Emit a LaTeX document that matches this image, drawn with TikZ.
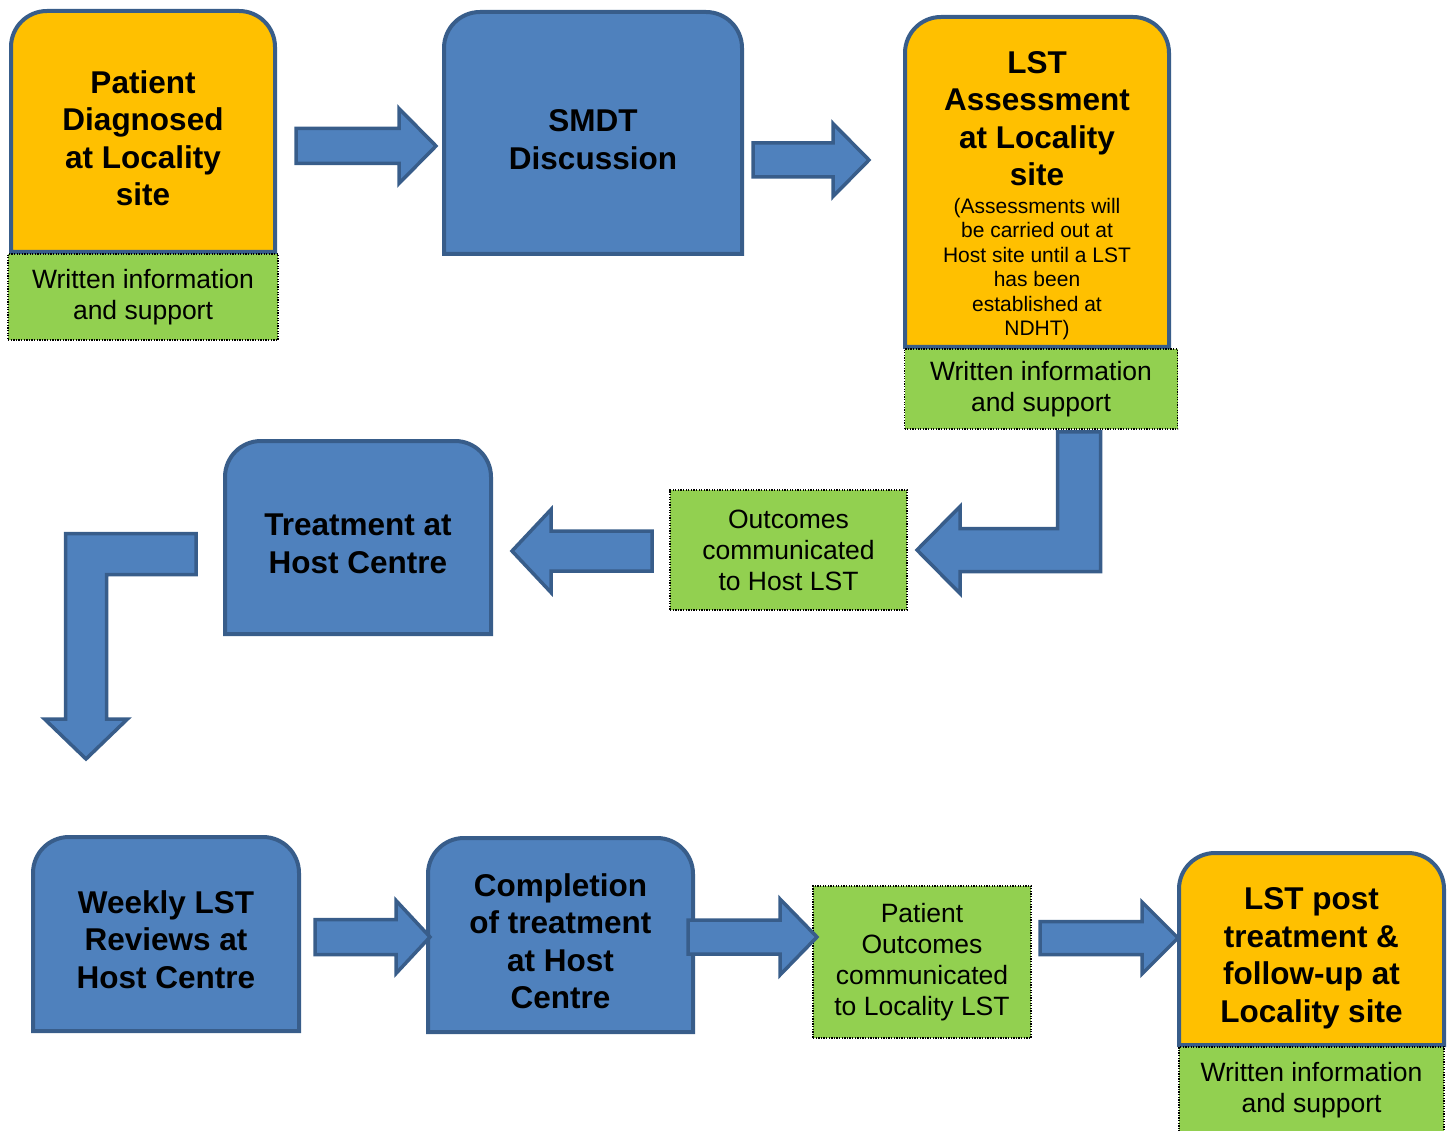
\documentclass[tikz,border=0pt]{standalone}
\usepackage{fontspec}
\setmainfont{Liberation Sans}
\usepackage{tikz}
\usetikzlibrary{
  positioning,
  calc,
  backgrounds
}
\definecolor{amber_fill}{HTML}{FFC000}
\definecolor{stage_blue}{HTML}{4F81BD}
\definecolor{edge_blue}{HTML}{385D8A}
\definecolor{info_green}{HTML}{92D050}

\newcommand{\notefont}{\fontsize{21}{24.5}\selectfont\mdseries}
\newcommand{\toppad}[1]{\rule{0pt}{#1pt}}

% straight block arrow: tail, tip, half shaft, half head, head length
\newcommand{\flatarrow}[5]{%
  \draw[block_arrow] ($(#1)+(0,-#3)$) -- ($(#2)!#5pt!(#1)+(0,-#3)$) -- ($(#2)!#5pt!(#1)+(0,-#4)$)
    -- (#2) -- ($(#2)!#5pt!(#1)+(0,#4)$) -- ($(#2)!#5pt!(#1)+(0,#3)$) -- ($(#1)+(0,#3)$) -- cycle;}

\begin{document}
\begin{tikzpicture}[
    x=1pt, y=-1pt,
    font=\fontsize{31.5}{37.5}\selectfont\bfseries,
    % Styles
    stage_box/.style={
        rectangle, inner sep=0pt, outer sep=0pt, align=center
    },
    stage_edge/.style={
        draw=edge_blue, line width=4pt
    },
    info_box/.style={
        rectangle, draw=black, fill=info_green, line width=1.3pt, dash pattern=on 1.3pt off 1.3pt,
        inner sep=0pt, outer sep=0pt, align=center, font=\fontsize{26.5}{31}\selectfont\mdseries
    },
    block_arrow/.style={
        draw=edge_blue, fill=stage_blue, line width=3.5pt, line join=miter
    }
]
\useasboundingbox (0,0) rectangle (1454,1131);

% 1. TOP ROW
\node[stage_box, minimum width=264pt, minimum height=241pt] (diag) at (143,131.5) {
    \toppad{36}Patient\\Diagnosed\\at Locality\\site
};
\node[info_box, minimum width=270pt, minimum height=86pt, below=2pt of diag] (diaginfo) {
    Written information\\and support
};

\node[stage_box, minimum width=298pt, minimum height=242pt] (smdt) at (593,133) {
    \toppad{35}SMDT\\Discussion
};

\node[stage_box, minimum width=264pt, minimum height=330pt] (lstassess) at (1037,182) {
    \toppad{49}LST\\Assessment\\at Locality\\site\\[-10pt]
    \notefont (Assessments will\\[-13pt]\notefont be carried out at\\[-13pt]\notefont Host site until a LST\\[-13pt]
    \notefont has been\\[-13pt]\notefont established at\\[-13pt]\notefont NDHT)
};
\node[info_box, minimum width=273pt, minimum height=80pt, below=2pt of lstassess, xshift=4pt] (lstinfo) {
    Written information\\and support
};

% 2. MIDDLE ROW
\node[info_box, minimum width=237pt, minimum height=120pt] (hostout) at (788.5,550) {
    Outcomes\\communicated\\to Host LST
};

\node[stage_box, minimum width=266pt, minimum height=193pt] (treat) at (358,537.5) {
    \toppad{34}Treatment at\\Host Centre
};

% 3. BOTTOM ROW
\node[stage_box, minimum width=266pt, minimum height=194pt] (weekly) at (166,934) {
    \toppad{34}Weekly LST\\Reviews at\\Host Centre
};

\node[stage_box, minimum width=265pt, minimum height=194pt] (complete) at (560.5,935) {
    \toppad{35}Completion\\of treatment\\at Host\\Centre
};

\node[info_box, minimum width=218pt, minimum height=152pt] (locout) at (922,962) {
    Patient\\Outcomes\\communicated\\to Locality LST
};

\node[stage_box, minimum width=265pt, minimum height=192pt] (followup) at (1311.5,949) {
    \toppad{41}LST post\\treatment \&\\follow-up at\\Locality site
};
\node[info_box, minimum width=265pt, minimum height=86pt, below=2pt of followup] (followinfo) {
    Written information\\and support
};

% Stage boxes (top corners rounded)
\begin{scope}[on background layer]
    \foreach \stage/\tone in {diag/amber_fill, smdt/stage_blue, lstassess/amber_fill, treat/stage_blue,
                              weekly/stage_blue, complete/stage_blue, followup/amber_fill}
        \draw[stage_edge, fill=\tone] (\stage.south west) [rounded corners=36pt] -- (\stage.north west)
            -- (\stage.north east) [sharp corners] -- (\stage.south east) -- cycle;
\end{scope}

% --- Block arrows ---
\coordinate (a1s) at ($(diag.east)+(21,14.5)$);
\coordinate (a1e) at ($(a1s -| smdt.west)+(-8,0)$);
\flatarrow{a1s}{a1e}{17.5}{37.5}{37}

\coordinate (a2s) at ($(smdt.east)+(11,27)$);
\coordinate (a2e) at ($(a2s -| lstassess.west)+(-36,0)$);
\flatarrow{a2s}{a2e}{17}{36.5}{36}

% down and left to host outcomes
\coordinate (l1s) at ($(lstinfo.south)+(38,3)$);
\coordinate (l1b) at (l1s |- hostout.east);
\coordinate (l1e) at ($(hostout.east)+(10,0)$);
\draw[block_arrow] ($(l1s)+(-21.5,0)$) -- ($(l1s)+(21.5,0)$) -- ($(l1b)+(21.5,21.5)$) -- ($(l1e)+(43,21.5)$)
    -- ($(l1e)+(43,43.5)$) -- (l1e) -- ($(l1e)+(43,-43.5)$) -- ($(l1e)+(43,-21.5)$) -- ($(l1b)+(-21.5,-21.5)$) -- cycle;

\coordinate (a3s) at ($(hostout.west)+(-18,1)$);
\coordinate (a3e) at ($(a3s -| treat.east)+(21,0)$);
\flatarrow{a3s}{a3e}{20}{41.5}{39}

% left and down to weekly reviews
\coordinate (l2s) at ($(treat.west)+(-29,16.5)$);
\coordinate (l2b) at ($(l2s)+(-110,0)$);
\coordinate (l2e) at ($(l2b |- weekly.north)+(0,-78)$);
\draw[block_arrow] ($(l2s)+(0,-20.5)$) -- ($(l2b)+(-20.5,-20.5)$) -- ($(l2e)+(-20.5,-40)$) -- ($(l2e)+(-41.5,-40)$)
    -- (l2e) -- ($(l2e)+(41.5,-40)$) -- ($(l2e)+(20.5,-40)$) -- ($(l2b)+(20.5,20.5)$) -- ($(l2s)+(0,20.5)$) -- cycle;

\coordinate (a4s) at ($(weekly.east)+(16,3)$);
\coordinate (a4e) at ($(a4s -| complete.west)+(2,0)$);
\flatarrow{a4s}{a4e}{17.5}{36.5}{34}

\coordinate (a5s) at ($(complete.east)+(-5,2)$);
\coordinate (a5e) at ($(a5s -| locout.west)+(4,0)$);
\flatarrow{a5s}{a5e}{17}{38}{37}

\coordinate (a6s) at ($(locout.east)+(9,-24)$);
\coordinate (a6e) at ($(a6s -| followup.west)+(-1,0)$);
\flatarrow{a6s}{a6e}{16.5}{36}{36}

\end{tikzpicture}
\end{document}
